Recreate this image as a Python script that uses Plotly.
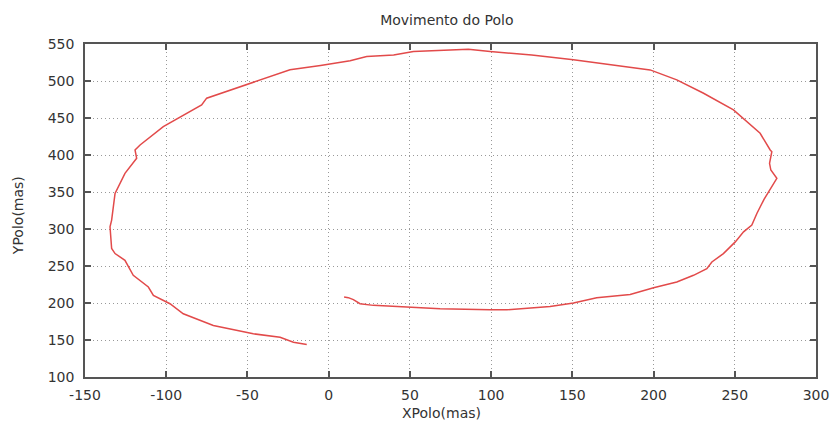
import plotly.graph_objects as go

x_polo = [-13.5, -21.7, -29.9, -46.4, -71, -89.5, -97.7, -107.9, -111, -120.3, -125.4, -131.5,
          -133.6, -134.6, -133.6, -131.5, -125.4, -118.2, -119.2, -116.1, -101.8, -78.2, -75.1,
          -50.4, -37, -23.8, -5, 13.2, 23.4, 40, 52.2, 65, 86, 99.4, 125, 150.7, 175, 197.9,
          214.3, 230.5, 249.2, 265.6, 271.8, 272.8, 271.4, 272.2, 275.9, 272, 268, 263.6, 260.5,
          255.4, 250.3, 243, 235.9, 232.8, 224.6, 214.3, 200, 185.6, 165, 150.7, 136.3, 109.7,
          99.4, 68.6, 50.1, 27.5, 19.3, 15.2, 12.1, 9.5]
y_polo = [144, 147, 153.8, 158.4, 169.6, 185.5, 199, 210.3, 221.6, 237.4, 257.7, 266.8,
          273.6, 302.8, 312, 348, 375.2, 395.5, 406.8, 413.6, 438.3, 467.8, 476.8,
          494.9, 505, 515.2, 521, 527.4, 533.2, 535, 540, 541.5, 543, 540, 535, 528.7, 522, 515,
          501.6, 483.8, 461, 429.4, 406.8, 404.5, 388.8, 379.7, 368.4, 355, 340, 321, 305.2,
          296.1, 282.6, 266.8, 255.4, 246.4, 237.4, 228.3, 220.6, 211.6, 207.2, 199.9, 195.4, 190.9,
          190.9, 192.3, 194.5, 196.8, 199, 204.5, 207.2, 208]

x_ticks = [-150, -100, -50, 0, 50, 100, 150, 200, 250, 300]
y_ticks = [100, 150, 200, 250, 300, 350, 400, 450, 500, 550]

FONT = "DejaVu Sans, Liberation Sans, sans-serif"
TXT = "#333333"

fig = go.Figure()
fig.add_trace(go.Scatter(x=x_polo, y=y_polo, mode="lines",
                         line=dict(color="#e24a4a", width=1.5), showlegend=False))

axis_common = dict(
    showline=True, linecolor="#555555", linewidth=1.5, mirror="allticks",
    ticks="inside", ticklen=6, tickcolor="#555555", tickwidth=1.5,
    showgrid=True, gridcolor="#999999", griddash="1px,3px", gridwidth=1,
    zeroline=False, tickfont=dict(size=14, color=TXT, family=FONT),
    automargin=False,
)

fig.update_layout(
    width=831, height=429,
    margin=dict(l=85, r=15, t=44, b=52),
    paper_bgcolor="white", plot_bgcolor="white",
    font=dict(family=FONT, color=TXT),
    title=dict(text="Movimento do Polo", xref="paper", x=0.495, xanchor="center",
               yref="container", y=1 - 20 / 429, yanchor="middle",
               font=dict(size=14, color=TXT, family=FONT)),
    xaxis=dict(range=[-150, 300], tickvals=x_ticks, ticktext=[str(v) for v in x_ticks],
               ticklabelstandoff=4, **axis_common),
    yaxis=dict(range=[100, 550], tickvals=y_ticks, ticktext=[str(v) for v in y_ticks],
               ticklabelstandoff=6, **axis_common),
    annotations=[
        dict(text="XPolo(mas)", xref="paper", yref="paper", x=0.488, y=-0.108,
             xanchor="center", yanchor="middle", showarrow=False,
             font=dict(size=14, color=TXT, family=FONT)),
        dict(text="YPolo(mas)", xref="paper", yref="paper", x=-0.0917, y=0.486,
             xanchor="center", yanchor="middle", showarrow=False, textangle=-90,
             font=dict(size=14, color=TXT, family=FONT)),
    ],
)

fig.write_html("out.html", config={"displayModeBar": False},
               post_script="document.body.style.margin='0';")
